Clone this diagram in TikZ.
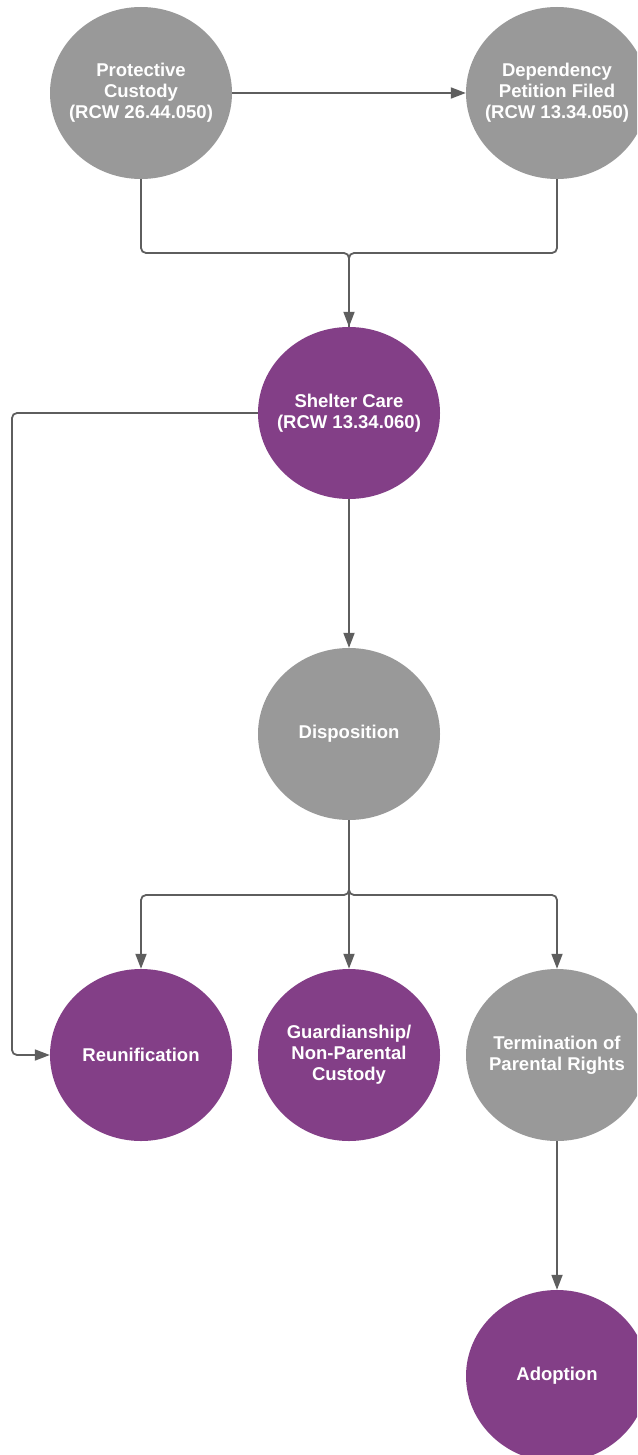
\documentclass[tikz,border=0pt]{standalone}
\usepackage{fontspec}
\setmainfont{Liberation Sans}
\usetikzlibrary{arrows.meta,shapes.geometric}
\definecolor{gr}{HTML}{999999}
\definecolor{pu}{HTML}{833F87}
\definecolor{ln}{HTML}{5E5E5E}
\begin{document}
\begin{tikzpicture}[x=1pt,y=-1pt,
  bub/.style={ellipse, minimum width=182pt, minimum height=172pt, inner sep=0pt, draw=none},
  grey/.style={bub, fill=gr},
  purp/.style={bub, fill=pu},
  txt/.style={text=white, font=\fontsize{18.5}{21}\selectfont\bfseries, align=center, inner sep=0pt},
  line/.style={draw=ln, line width=1.8pt, rounded corners=5pt},
  conn/.style={line, -{Triangle[length=15pt,width=11pt]}}]
\useasboundingbox (0,0) rectangle (637,1455);
\clip (0,0) rectangle (637,1455);
\fill[white] (0,0) rectangle (637,1455);

\node[grey] (pc) at (141,93) {};
\node[txt] (pct) at (pc) {Protective\\Custody\\(RCW 26.44.050)};
\node[grey] (dp) at (557,93) {};
\node[txt] (dpt) at (dp) {Dependency\\Petition Filed\\(RCW 13.34.050)};
\node[purp] (sc) at (349,413) {};
\node[txt] (sct) at (sc) {Shelter Care\\(RCW 13.34.060)};
\node[grey] (di) at (349,734) {};
\node[txt] (dit) at (di) {Disposition};
\node[purp] (ru) at (141,1055) {};
\node[txt] (rut) at (ru) {Reunification};
\node[purp] (gu) at (349,1055) {};
\node[txt] (gut) at (gu) {Guardianship/\\Non-Parental\\Custody};
\node[grey] (tp) at (557,1055) {};
\node[txt] (tpt) at (tp) {Termination of\\Parental Rights};
\node[purp] (ad) at (557,1376) {};
\node[txt] (adt) at (ad) {Adoption};

\coordinate (j1) at (349,253);
\coordinate (j2) at (349,895);
\coordinate (l1) at (12,413);
\coordinate (l2) at (12,1055);

\draw[conn] (pc) -- (dp);
\draw[line] (dp.south) |- (j1) -- (sc.north);
\draw[conn] (pc.south) |- (j1) -- (sc.north);
\draw[conn] (sc.west) -- (l1) -- (l2) -- (ru.west);
\draw[conn] (sc.south) -- (di.north);
\draw[conn] (di.south) -- (j2) -| (ru.north);
\draw[conn] (di.south) -- (j2) -| (tp.north);
\draw[conn] (di.south) -- (gu.north);
\draw[conn] (tp.south) -- (ad.north);
\end{tikzpicture}
\end{document}
